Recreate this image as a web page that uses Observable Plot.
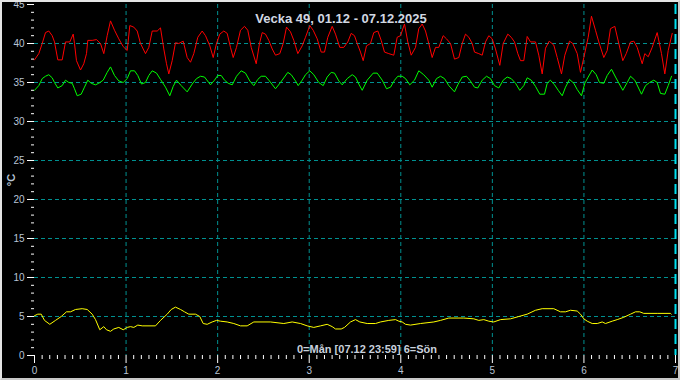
<!DOCTYPE html>
<html><head><meta charset="utf-8">
<script src="https://cdn.jsdelivr.net/npm/d3@7"></script>
<script src="https://cdn.jsdelivr.net/npm/@observablehq/plot@0.6"></script>
<style>
html,body{margin:0;padding:0;background:#000;}
#wrap{position:relative;width:680px;height:380px;overflow:hidden;}
#wrap svg{display:block;}
#frame{position:absolute;left:0;top:0;width:680px;height:380px;box-sizing:border-box;border:2px solid #e4e4e4;border-right-color:#c8c8c8;border-bottom-color:#c8c8c8;pointer-events:none;}
</style></head>
<body><div id="wrap"><div id="frame"></div></div>
<script>
// Texts
const titleText = "Vecka 49, 01.12 - 07.12.2025";
const captionText = "0=Mån [07.12 23:59] 6=Sön";
const yLabel = "°C";

// Tick values
const dayLabels = [0, 1, 2, 3, 4, 5, 6, 7];
const yMajorTicks = [0, 5, 10, 15, 20, 25, 30, 35, 40, 45];

// Red series (hours since Mon 00:00, °C)
const redH = [0,1.13,2.02,2.88,3.75,4.64,5.24,6.11,7.26,8.12,9.25,10.14,10.48,11.0,12.06,12.92,13.63,13.97,15.12,16.25,17.3,18.16,19.05,19.92,20.97,22.09,23.25,24.3,24.98,26.02,26.92,27.78,29.09,29.96,30.85,32.16,
33.02,33.89,34.6,35.2,36.09,36.95,37.82,38.97,40.02,40.89,41.75,42.8,43.95,44.82,45.95,46.84,47.7,48.57,49.61,50.5,51.37,52.08,52.94,53.99,55.04,55.9,56.8,58.11,58.97,59.68,60.54,61.41,62.3,63.16,64.29,65.18,66.05,67.09,
67.96,69.01,70.16,71.03,72.15,73.04,74.09,75.14,76.01,76.87,78.02,78.89,80.02,81.06,82.11,83.0,83.87,84.58,85.44,86.15,87.01,88.06,88.93,89.98,90.87,91.73,92.86,94.17,95.06,95.93,96.97,97.84,98.73,99.86,100.72,101.61,
102.48,103.34,104.23,105.1,105.96,107.12,107.98,109.03,110.08,111.21,112.1,112.96,113.83,114.72,115.32,116.45,117.34,118.2,119.07,119.96,120.82,121.95,122.84,124.05,124.94,125.8,126.67,127.38,128.24,129.13,130.0,131.31,132.17,133.06,
133.93,134.9,136.1,137.0,138.12,138.99,140.22,141.08,142.24,143.1,143.97,145.12,145.98,147.03,147.9,149.21,150.1,150.96,152.09,153.14,154.19,155.08,156.21,157.07,157.96,159.27,159.96,160.85,161.89,163.2,164.33,165.2,166.09,167.14];
const redV = [37.9,38.7,40.0,41.4,41.6,41.0,40.2,37.9,37.9,40.2,40.2,41.2,40.0,37.8,36.6,37.4,38.7,40.4,40.4,40.5,40.0,38.7,41.0,42.9,41.7,40.6,39.6,39.1,42.3,42.1,41.6,40.0,38.7,39.5,41.6,41.6,
42.0,39.3,37.4,36.1,37.8,40.1,40.0,40.3,38.2,37.6,38.7,40.8,41.6,41.0,39.7,38.2,40.0,41.2,41.6,41.3,39.5,38.2,39.5,41.7,42.2,41.7,39.5,37.4,40.0,41.4,41.2,40.4,39.3,38.5,38.7,40.0,42.1,41.5,
40.4,38.7,39.7,40.8,42.3,41.7,40.6,38.9,38.9,40.8,42.2,41.2,39.5,39.5,40.2,41.3,41.0,40.0,38.9,37.8,39.7,40.0,41.4,41.6,40.4,38.9,38.7,38.5,40.8,41.0,42.5,40.2,38.5,39.5,41.9,42.5,
41.6,40.0,38.2,39.5,39.5,41.0,40.6,40.0,38.0,38.2,40.0,41.2,40.8,40.0,38.9,38.7,38.5,40.2,41.0,40.6,39.3,37.2,40.0,41.2,40.8,40.2,38.7,37.8,37.8,40.9,40.2,40.2,38.5,36.1,
39.4,40.3,39.8,38.2,36.1,38.5,40.3,40.0,38.7,36.3,38.2,40.8,43.5,41.7,40.2,38.2,39.1,41.9,42.2,40.0,37.8,38.7,40.2,40.3,39.5,37.4,38.7,38.3,39.5,41.4,38.7,36.1,39.1,41.3];

// Green series
const greenH = [0,1.13,2.02,2.88,3.75,4.64,5.24,6.11,7.26,8.12,8.99,9.88,10.48,11.19,12.24,13.1,13.97,14.86,15.99,16.85,18.01,19.05,19.92,20.97,22.09,23.25,24.3,25.16,26.21,27.07,28.04,29.09,29.96,30.85,31.98,
33.02,34.33,35.46,36.35,37.22,38.45,40.02,41.33,42.46,43.51,44.56,46.13,47.18,48.04,48.93,49.8,50.77,51.82,52.94,54.17,55.3,56.43,57.48,58.53,59.42,60.54,61.41,63.16,64.47,66.39,67.28,
68.41,69.11,70.16,71.03,72.15,73.2,74.51,75.67,76.71,77.76,78.63,79.76,80.65,81.96,83.27,84.13,85.0,85.89,87.2,88.77,89.82,91.13,92.26,93.31,94.36,95.22,96.37,97.24,98.36,99.6,100.72,
102.0,103.34,104.23,105.36,106.41,107.46,108.59,110.08,110.94,112.1,113.22,114.09,115.32,116.19,117.34,118.47,119.51,120.56,121.69,122.84,123.89,124.94,126.07,127.19,128.24,129.13,130.18,131.31,132.43,133.67,
134.37,135.2,136.3,137.26,138.31,139.17,140.22,141.35,142.24,143.36,144.23,145.12,146.17,147.22,148.08,149.21,150.1,151.23,152.28,154.19,155.34,156.21,157.33,159.09,160.14,161.19,162.32,163.2,164.07,165.2,166.09,166.96];
const greenV = [34.0,34.6,35.5,35.8,36.0,35.6,35.0,34.3,34.6,35.3,35.0,34.9,34.2,33.3,33.5,34.4,35.3,34.9,34.7,34.9,35.3,36.3,37.0,35.9,35.2,35.0,35.5,36.5,36.5,35.9,34.8,35.0,35.9,36.5,36.2,
35.4,34.4,33.3,34.5,35.3,34.6,33.8,34.8,35.5,35.8,35.7,34.7,35.3,35.9,35.9,35.3,34.9,34.7,35.8,36.5,36.2,35.2,34.6,35.4,35.8,35.8,35.3,34.2,35.0,36.3,36.0,
35.2,34.6,35.3,36.0,36.5,36.0,35.0,34.6,35.7,36.3,36.2,35.2,34.7,35.5,36.0,35.7,34.8,34.0,35.3,36.2,36.2,35.3,34.2,34.4,35.3,35.8,35.8,35.5,34.7,35.3,36.5,
36.0,35.3,34.4,35.5,35.8,35.5,34.6,33.8,34.7,35.7,35.8,35.3,34.4,34.3,35.3,35.8,35.5,34.6,34.3,35.3,35.7,35.5,34.9,34.0,34.6,35.6,35.3,34.5,33.5,33.5,
34.9,35.3,34.7,34.0,33.3,34.4,35.4,34.9,34.1,33.3,34.9,35.7,36.6,36.0,35.0,34.9,35.9,36.7,35.7,34.0,35.0,35.8,35.3,33.5,34.6,35.0,35.3,35.0,33.6,33.5,34.6,35.8];

// Yellow series
const yellowH = [0,0.86,1.76,2.62,4.01,5.5,7.0,8.39,9.44,10.75,12.5,13.81,15.12,15.99,17.11,18.16,18.87,19.92,20.78,22.09,23.25,24.3,25.16,26.03,27.07,28.23,31.71,
33.02,34.78,35.83,36.95,38.27,39.31,40.44,42.2,43.32,44.21,45.26,46.57,47.7,48.75,50.5,52.24,53.99,55.74,57.48,61.85,65.34,67.54,69.72,71.47,73.2,74.96,76.71,78.02,78.89,80.38,81.25,
82.82,84.13,85.26,87.2,89.37,90.68,92.86,94.62,95.48,96.37,97.24,98.55,101.17,104.66,106.41,108.59,112.52,115.14,116.45,117.76,119.07,120.38,122.14,124.76,126.94,129.13,131.31,133.06,
136.1,137.86,139.17,140.48,142.24,143.1,143.97,144.86,146.17,147.48,148.79,149.66,151.41,152.72,154.45,156.21,157.52,158.62,159.67,163.2,166.69,166.87];
const yellowV = [5.1,5.3,5.3,4.5,4.0,4.5,5.0,5.6,5.6,5.9,6.0,5.9,5.3,4.6,3.3,3.7,3.3,3.1,3.4,3.6,3.3,3.6,3.7,3.6,3.9,3.8,3.8,
4.5,5.3,5.9,6.2,5.9,5.6,5.3,5.3,5.0,4.1,4.0,4.3,4.5,4.4,4.3,4.1,3.8,3.8,4.3,4.3,4.1,4.3,4.1,3.8,3.6,3.8,4.0,3.7,3.4,3.4,3.6,
4.3,4.6,4.3,4.1,4.1,4.3,4.5,4.6,4.4,4.3,4.0,3.9,4.1,4.3,4.5,4.8,4.8,4.7,4.5,4.6,4.4,4.3,4.6,4.7,5.0,5.3,5.8,6.0,
6.0,5.6,5.6,5.8,5.7,5.3,4.7,4.4,4.1,4.1,4.3,4.1,4.4,4.6,4.9,5.3,5.6,5.6,5.4,5.4,5.4,5.3];

const toRows = (H, V) => H.map((h, i) => ({h, v: V[i]}));
const red = toRows(redH, redV), green = toRows(greenH, greenV), yellow = toRows(yellowH, yellowV);

const dayTicks = dayLabels.map(d => d * 24);
const xMinor = d3.range(2, 168, 2).filter(h => h % 24 !== 0);
const yMinor = d3.range(1, 45).filter(v => v % 5 !== 0);
const gridCol = "#009090";
const labelCol = "#b8c4d6";
const font = "'Liberation Sans', Arial, sans-serif";

const chart = Plot.plot({
  width: 680, height: 380,
  marginLeft: 34, marginRight: 5, marginTop: 4, marginBottom: 25,
  style: {background: "#000", fontFamily: font, fontSize: "10px", color: labelCol},
  x: {domain: [0, 168], axis: null},
  y: {domain: [0, 45], axis: null},
  marks: [
    Plot.gridY(yMajorTicks.filter(v => v > 0 && v < 45), {stroke: gridCol, strokeOpacity: 1, strokeDasharray: "4,3"}),
    Plot.gridX(dayTicks.filter(h => h > 0 && h < 168), {stroke: gridCol, strokeOpacity: 1, strokeDasharray: "4,3"}),
    Plot.ruleX([168], {stroke: "#00e0f0", strokeWidth: 2, strokeDasharray: "10,5"}),
    Plot.axisY(yMajorTicks, {tickSize: 7, tickPadding: 3, stroke: "#fff", fill: labelCol, fontSize: 10, label: null}),
    Plot.axisY(yMinor, {tickSize: 3, tickFormat: () => "", stroke: "#fff", label: null}),
    Plot.axisX(dayTicks, {tickSize: 8, tickPadding: 3, tickFormat: h => String(h / 24), stroke: "#fff", fill: labelCol, fontSize: 10, label: null}),
    Plot.axisX(xMinor, {tickSize: 4, tickFormat: () => "", stroke: "#fff", label: null}),
    Plot.line(yellow, {x: "h", y: "v", stroke: "#ffff00", strokeWidth: 1}),
    Plot.line(green, {x: "h", y: "v", stroke: "#00ff00", strokeWidth: 1}),
    Plot.line(red, {x: "h", y: "v", stroke: "#ff0000", strokeWidth: 1}),
    Plot.text([titleText], {text: d => d, frameAnchor: "top", dx: -14, dy: 14, lineAnchor: "middle", fill: "#d2d8e2", fontSize: 13, fontWeight: "bold"}),
    Plot.text([captionText], {text: d => d, frameAnchor: "bottom", dx: 12, dy: -6, lineAnchor: "middle", fill: "#c8d0dc", fontSize: 11, fontWeight: "bold"}),
    Plot.text([yLabel], {text: d => d, frameAnchor: "left", dx: -23, rotate: -90, textAnchor: "middle", lineAnchor: "middle", fill: labelCol, fontSize: 11, fontWeight: "bold"})
  ]
});
document.getElementById("wrap").insertBefore(chart, document.getElementById("frame"));
</script>
</body></html>
